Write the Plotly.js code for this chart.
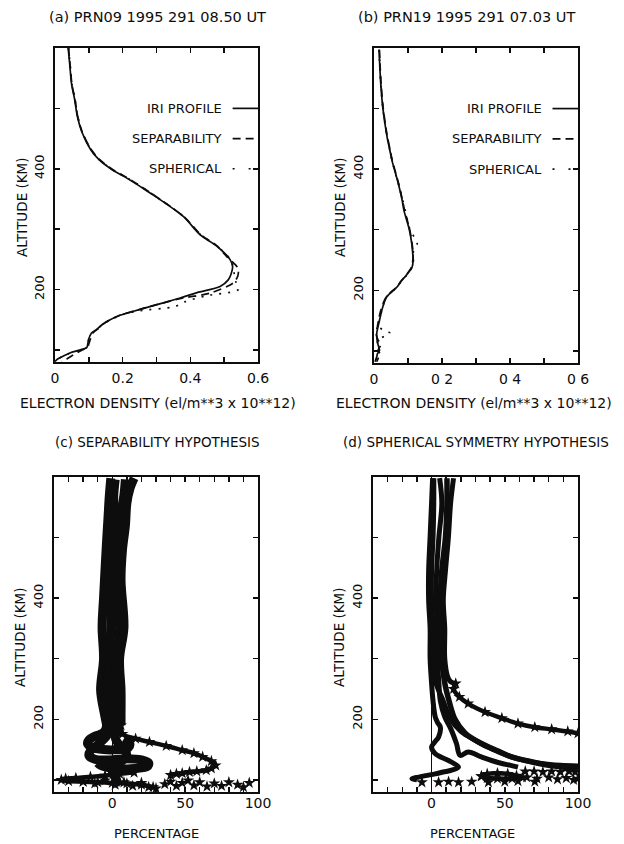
<!DOCTYPE html>
<html><head><meta charset="utf-8">
<script src="https://cdn.plot.ly/plotly-3.0.1.min.js"></script>
<style>html,body{margin:0;padding:0;background:#fff}#chart{width:624px;height:844px}</style>
</head><body><div id="chart"></div>
<script>
// ---------- Panel (a): PRN09 electron density ----------
const altA_iri = [600,570,540,515,487,460,432,415,398,387,360,321,290,272,250,238,225,216,205,195,186,178,170,164,157,150,142,134,128,117,110,104,100,95,90,85,81];
const denA_iri = [0.039,0.044,0.049,0.058,0.066,0.08,0.105,0.13,0.17,0.205,0.281,0.379,0.43,0.478,0.517,0.525,0.52,0.512,0.488,0.42,0.37,0.32,0.27,0.232,0.19,0.163,0.14,0.123,0.108,0.099,0.097,0.094,0.075,0.044,0.025,0.008,0.0];
const altA_sep = [600,570,540,515,487,460,432,415,398,387,360,321,290,272,255,240,233,222,211,194,186,172,164,157,150,142,134,128,117,110,104,100,95,90,85,81];
const denA_sep = [0.04,0.045,0.05,0.059,0.067,0.081,0.107,0.132,0.172,0.208,0.283,0.38,0.433,0.48,0.507,0.535,0.542,0.54,0.527,0.458,0.379,0.281,0.232,0.19,0.163,0.14,0.125,0.112,0.104,0.1,0.096,0.08,0.065,0.049,0.035,0.02];
const altA_sph = [600,570,540,515,487,460,432,415,398,387,360,321,290,272,250,238,225,212,200,190,180,172,164,157,150,142,134,128,117,110,104,100,95,90,85,81];
const denA_sph = [0.04,0.045,0.05,0.059,0.067,0.081,0.106,0.131,0.171,0.207,0.282,0.38,0.432,0.479,0.518,0.527,0.53,0.535,0.542,0.45,0.385,0.355,0.24,0.192,0.164,0.141,0.124,0.11,0.1,0.097,0.094,0.076,0.046,0.026,0.009,0.0];

// ---------- Panel (b): PRN19 electron density ----------
const altB = [597,570,540,501,458,430,414,375,348,332,300,277,260,249,238,227,215,205,195,189,180,167,150,140,129,118,110,101,95,90,82];
const denB_iri = [0.015,0.017,0.02,0.026,0.037,0.047,0.053,0.072,0.083,0.088,0.104,0.111,0.114,0.115,0.112,0.098,0.08,0.067,0.047,0.037,0.03,0.023,0.016,0.012,0.008,0.009,0.012,0.016,0.01,0.008,0.003];
const denB_sep = [0.016,0.018,0.021,0.027,0.038,0.048,0.054,0.073,0.084,0.09,0.105,0.112,0.115,0.114,0.11,0.097,0.079,0.066,0.046,0.036,0.028,0.02,0.013,0.01,0.006,0.012,0.02,0.012,0.018,0.014,0.008];
const denB_sph = [0.015,0.017,0.02,0.026,0.037,0.047,0.053,0.072,0.085,0.092,0.106,0.127,0.113,0.116,0.112,0.099,0.08,0.067,0.047,0.037,0.03,0.023,0.016,0.012,0.047,0.01,0.012,0.016,0.01,0.008,0.003];

// ---------- Panel (c): separability hypothesis, percentage differences ----------
const c1x = [-1,-2,-3,-4,-5,-6,-7,-6,-8,-5,-4,-6,-12,-16,-17,-14,-6,4,11,12,8];
const c1y = [598,570,530,490,446,400,352,300,248,204,188,178,172,166,160,154,150,150,153,160,168];
const c2x = [2,1,1,0,-1,-1,-1,-2,-3,0,-1,-4,-10,-15,-16,-12,-2,10,20,25,24,15,5,-2,-8,-10];
const c2y = [596,570,530,490,446,400,352,300,248,204,188,172,158,148,140,134,133,135,133,128,122,119,118,120,124,128];
const c3x = [15,12,10,9,7,6,8,5,6,6,6];
const c3y = [598,580,557,520,480,430,352,300,248,204,190];
const c3tx = [6,7,16,25.5,37,48,56,62,68,71,68,64.5,58,53,48,44,40];
const c3ty = [190,176,168,162.5,156,149,144,138,131,124,119,116,114,113,111,110,108];
const c4x = [9,8,6,5,4,3,5,3,3,3,4,2,4,8,10,6,2,0,1,3,2];
const c4y = [596,570,540,500,450,400,352,300,248,204,185,170,160,150,140,130,122,115,108,100,92];
const c5x = [15,5,-5,-15,-25,-32,-35,-30,-20,-10,0,10,20,28];
const c5y = [112,110,107,105,103,102,100,98,97,96,95,94,92,88];
const c6x = [-20,-12,-5,2,8,14,20,25,30,36,40,44,48,52,56,60,65,70,75,80,86,90,94];
const c6y = [97,94,99,92,96,90,95,88,86,93,97,90,95,99,91,96,89,94,90,96,92,88,95];

// ---------- Panel (d): spherical symmetry hypothesis ----------
const d1x = [0.7,0,-1,-2,-2,-1,-1,0,1,2.5,4,6,4.8,2,0,2.5,7,11.6,18.4,13.8,8,2.5,-4,-8.8,-13.4,-10];
const d1y = [598,557,501,446,397,350,300,260,230,204,195,187,171,162,154,143,137,132,121,116,113,110,107,104.6,102,100];
const d5x = [1.5,1.5,1,0,0,1,1,3,8,13,20,30,42,52,62,75,88,100];
const d5y = [598,557,501,446,397,350,300,260,230,200,180,165,150,140,133,127,124,123];
const d2x = [5.5,7,5,3.5,3,4,4,5,6,9,13,17,19.5,25,34,41,48,54,59];
const d2y = [598,557,501,446,397,350,300,260,230,204,185,160,140.5,146,138,132,127,124,121];
const d4x = [10.5,10.5,9.5,7,6,7,7,9,12,16,23,34,45,54.6,68,80,90,100];
const d4y = [598,557,501,446,397,350,300,260,230,200,177,160,148,138,130,124,121,119];
const d3x = [15,13,11.5,9.5,8,9,9,11,13,16.5];
const d3y = [598,557,501,446,397,350,300,270,262,259];
const d3tx = [16.5,15,19,25,36.5,48,59,70.5,82,93,100];
const d3ty = [259,250,237,226,212,202,193,187,183.5,180,177];
const d6x = [34,38,45,52,58,62,55,45,38,34];
const d6y = [106,110,111,110,107,104,102,102,103,106];
const d7x = [-6.6,4.8,11.6,18.4,27.4,38.8,50,59,70.5,64,70,76,82,88,94,98,65,72,80,86,92,97,100];
const d7y = [96,96,97,96,97,96,97,98,97,114,114,113,114,113,114,113,104,102,104,101,103,100,102];

const blk = '#0d0d0d';
const FONT = 'DejaVu Sans, Liberation Sans, sans-serif';

function prof(x, y, xa, ya, dash) {
  return {x: x, y: y, xaxis: xa, yaxis: ya, mode: 'lines', type: 'scatter',
    line: {color: blk, width: 1.7, dash: dash, shape: 'spline', smoothing: 0.8}, hoverinfo: 'skip', showlegend: false};
}
function strand(x, y, xa, ya, w) {
  return {x: x, y: y, xaxis: xa, yaxis: ya, mode: 'lines', type: 'scatter',
    line: {color: blk, width: w, shape: 'spline'}, hoverinfo: 'skip', showlegend: false};
}
function trail(x, y, xa, ya) {
  return {x: x, y: y, xaxis: xa, yaxis: ya, mode: 'lines+markers', type: 'scatter',
    line: {color: blk, width: 4.5, shape: 'spline'},
    marker: {symbol: 'star', size: 9, color: blk}, hoverinfo: 'skip', showlegend: false};
}
function stars(x, y, xa, ya) {
  return {x: x, y: y, xaxis: xa, yaxis: ya, mode: 'markers', type: 'scatter',
    marker: {symbol: 'star', size: 9, color: blk}, hoverinfo: 'skip', showlegend: false};
}

const DASH = '8px,5px', DOT = '2px,7px';
const data = [
  prof(denA_iri, altA_iri, 'x', 'y', 'solid'),
  prof(denA_sep, altA_sep, 'x', 'y', DASH),
  prof(denA_sph, altA_sph, 'x', 'y', DOT),
  prof(denB_iri, altB, 'x2', 'y2', 'solid'),
  prof(denB_sep, altB, 'x2', 'y2', DASH),
  prof(denB_sph, altB, 'x2', 'y2', DOT),
  strand(c1x, c1y, 'x3', 'y3', 9),
  strand(c2x, c2y, 'x3', 'y3', 9),
  strand(c4x, c4y, 'x3', 'y3', 9),
  strand(c3x, c3y, 'x3', 'y3', 9),
  trail(c3tx, c3ty, 'x3', 'y3'),
  trail(c5x, c5y, 'x3', 'y3'),
  stars(c6x, c6y, 'x3', 'y3'),
  strand(d1x, d1y, 'x4', 'y4', 5),
  strand(d5x, d5y, 'x4', 'y4', 5),
  strand(d2x, d2y, 'x4', 'y4', 5),
  strand(d4x, d4y, 'x4', 'y4', 5.5),
  strand(d3x, d3y, 'x4', 'y4', 5),
  trail(d3tx, d3ty, 'x4', 'y4'),
  trail(d6x, d6y, 'x4', 'y4'),
  stars(d7x, d7y, 'x4', 'y4')
];

function xax(dom, anchor, range, vals, text, standoff) {
  return {domain: dom, anchor: anchor, range: range, tickmode: 'array', tickvals: vals, ticktext: text,
    ticks: 'inside', ticklen: 5, tickwidth: 1.5, tickcolor: blk, showline: true, linewidth: 2, linecolor: blk,
    mirror: 'ticks', showgrid: false, zeroline: false, ticklabelstandoff: standoff,
    tickfont: {family: FONT, size: 14, color: blk}, fixedrange: true};
}
function yax(dom, anchor) {
  return {domain: dom, anchor: anchor, range: [80, 600], tickmode: 'array',
    tickvals: [100, 200, 300, 400, 500], ticktext: ['', '200', '', '400', ''], tickangle: -90,
    ticks: 'inside', ticklen: 5, tickwidth: 1.5, tickcolor: blk, showline: true, linewidth: 2, linecolor: blk,
    mirror: 'ticks', showgrid: false, zeroline: false, ticklabelstandoff: 4,
    tickfont: {family: FONT, size: 13, color: blk}, fixedrange: true};
}
const denVals = [0, 0.1, 0.2, 0.3, 0.4, 0.5, 0.6];
const denTextA = ['0', '', '0.2', '', '0.4', '', '0.6'];
const denTextB = ['0', '', '0 2', '', '0 4', '', '0 6'];
const pctVals = [-40, -30, -20, -10, 0, 10, 20, 30, 40, 50, 60, 70, 80, 90, 100];
const pctText = ['', '', '', '', '0', '', '', '', '', '50', '', '', '', '', '100'];

const W = 624, H = 844;
const px = v => v / W, py = v => 1 - v / H;

const xa3 = xax([px(54), px(258)], 'y3', [-40, 100], pctVals, pctText, -3);
xa3.zeroline = true; xa3.zerolinecolor = blk; xa3.zerolinewidth = 1.5;
const xa4 = xax([px(373), px(578)], 'y4', [-40, 100], pctVals, pctText, -3);
xa4.zeroline = true; xa4.zerolinecolor = blk; xa4.zerolinewidth = 1.5;

function ann(text, x, y, size, angle) {
  return {text: text, xref: 'paper', yref: 'paper', x: x, y: y, xanchor: 'center', yanchor: 'middle',
    showarrow: false, textangle: angle || 0, font: {family: FONT, size: size, color: blk}};
}
function legText(text, xr, yr, yv) {
  return {text: text, xref: xr, yref: yr, x: 0.5, y: yv, xanchor: 'right', yanchor: 'middle',
    showarrow: false, font: {family: FONT, size: 13, color: blk}};
}
function legLine(xr, yr, yv, dash) {
  return {type: 'line', xref: xr, yref: yr, x0: 0.525, x1: 0.6, y0: yv, y1: yv,
    line: {color: blk, width: 1.7, dash: dash}};
}

const layout = {
  width: W, height: H, margin: {l: 0, r: 0, t: 0, b: 0},
  paper_bgcolor: '#fff', plot_bgcolor: '#fff', showlegend: false,
  xaxis: xax([px(55), px(258)], 'y', [0, 0.6], denVals, denTextA, 2),
  yaxis: yax([py(362), py(48)], 'x'),
  xaxis2: xax([px(374), px(578)], 'y2', [0, 0.6], denVals, denTextB, 2),
  yaxis2: yax([py(363), py(48)], 'x2'),
  xaxis3: xa3,
  yaxis3: yax([py(792), py(477)], 'x3'),
  xaxis4: xa4,
  yaxis4: yax([py(792), py(477)], 'x4'),
  annotations: [
    ann('(a) PRN09 1995 291 08.50 UT', px(157), py(17), 14.5),
    ann('(b) PRN19 1995 291 07.03 UT', px(466), py(17), 14.5),
    ann('(c) SEPARABILITY HYPOTHESIS', px(157), py(442), 13.5),
    ann('(d) SPHERICAL SYMMETRY HYPOTHESIS', px(476), py(442), 13.5),
    ann('ELECTRON DENSITY (el/m**3 x 10**12)', px(158), py(403), 14),
    ann('ELECTRON DENSITY (el/m**3 x 10**12)', px(473.5), py(403), 14),
    ann('PERCENTAGE', px(156), py(833), 13),
    ann('PERCENTAGE', px(472.5), py(833), 13),
    ann('ALTITUDE (KM)', px(22), py(207), 13.5, -90),
    ann('ALTITUDE (KM)', px(340), py(207), 13.5, -90),
    ann('ALTITUDE (KM)', px(20), py(637), 13.5, -90),
    ann('ALTITUDE (KM)', px(339), py(637), 13.5, -90),
    legText('IRI PROFILE', 'x', 'y', 500),
    legText('SEPARABILITY', 'x', 'y', 450),
    legText('SPHERICAL', 'x', 'y', 400),
    legText('IRI PROFILE', 'x2', 'y2', 500),
    legText('SEPARABILITY', 'x2', 'y2', 450),
    legText('SPHERICAL', 'x2', 'y2', 400)
  ],
  shapes: [
    legLine('x', 'y', 500, 'solid'), legLine('x', 'y', 450, '8px,5px'), legLine('x', 'y', 400, '2px,14px'),
    legLine('x2', 'y2', 500, 'solid'), legLine('x2', 'y2', 450, '8px,5px'), legLine('x2', 'y2', 400, '2px,14px')
  ]
};

Plotly.newPlot('chart', data, layout, {staticPlot: true, displayModeBar: false});
</script></body></html>
